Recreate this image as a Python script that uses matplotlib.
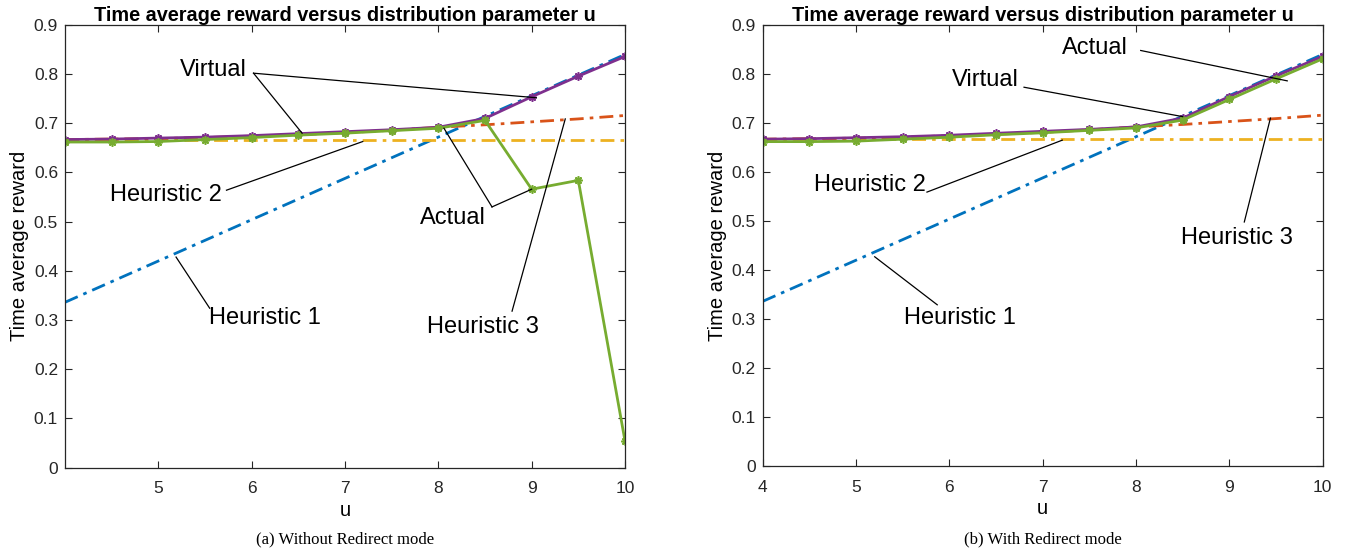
import numpy as np
import matplotlib
matplotlib.use("Agg")
from matplotlib import pyplot as plt

# data
u = [4, 4.5, 5, 5.5, 6, 6.5, 7, 7.5, 8, 8.5, 9, 9.5, 10]
heur1 = [0.336, 0.378, 0.420, 0.462, 0.504, 0.546, 0.588, 0.630, 0.672, 0.714, 0.756, 0.798, 0.840]
heur2 = [0.667] * 13
heur3 = [0.667, 0.668, 0.669, 0.671, 0.674, 0.677, 0.681, 0.686, 0.692, 0.697, 0.703, 0.709, 0.716]
virtual = [0.667, 0.668, 0.670, 0.672, 0.675, 0.679, 0.683, 0.687, 0.692, 0.710, 0.754, 0.796, 0.836]
actual_a = [0.662, 0.662, 0.663, 0.667, 0.671, 0.676, 0.680, 0.685, 0.690, 0.706, 0.566, 0.584, 0.054]
actual_b = [0.662, 0.662, 0.663, 0.667, 0.671, 0.676, 0.680, 0.685, 0.690, 0.706, 0.748, 0.790, 0.831]

c_h1 = (0.0, 0.447, 0.741)
c_h2 = (0.929, 0.694, 0.125)
c_h3 = (0.850, 0.325, 0.098)
c_vi = (0.494, 0.184, 0.556)
c_ac = (0.466, 0.674, 0.188)
dashdot = (0, (5, 2.2, 1.3, 2.2))
star = (8, 2, 0)

plt.rcParams['font.family'] = ['Liberation Sans', 'DejaVu Sans']

fig = plt.figure(figsize=(13.56, 5.53), dpi=100)
ax1 = fig.add_axes([65 / 1356, 1 - 467.5 / 553, 560 / 1356, 442.5 / 553])
ax2 = fig.add_axes([762.7 / 1356, 1 - 466 / 553, 560 / 1356, 441 / 553])


def draw(ax, actual, xticks):
    ax.plot(u, heur1, color=c_h1, lw=2, ls=dashdot)
    ax.plot(u, heur2, color=c_h2, lw=2, ls=dashdot)
    ax.plot(u, heur3, color=c_h3, lw=2, ls=dashdot)
    ax.plot(u, virtual, color=c_vi, lw=2, marker=star, ms=6, mew=1.2)
    ax.plot(u, actual, color=c_ac, lw=2, marker=star, ms=6, mew=1.2)
    ax.set_xlim(4, 10)
    ax.set_ylim(0, 0.9)
    ax.set_xticks(xticks)
    ax.set_yticks(np.arange(0, 0.91, 0.1))
    ax.set_yticklabels(["0"] + ["%.1f" % v for v in np.arange(0.1, 0.91, 0.1)])
    ax.tick_params(direction='in', top=True, right=True, length=5, width=0.8,
                   labelsize=12.5, colors=(0.15, 0.15, 0.15))
    ax.tick_params(axis='x', pad=10)
    ax.tick_params(axis='y', pad=5)
    for s in ax.spines.values():
        s.set_color((0.15, 0.15, 0.15))
        s.set_linewidth(0.9)
    ax.set_title("Time average reward versus distribution parameter u",
                 fontsize=14.3, fontweight='bold', pad=3)
    ax.set_xlabel("u", fontsize=14.5)
    ax.set_ylabel("Time average reward", fontsize=14.5)
    h = ax.get_position().height * 553
    ax.xaxis.set_label_coords(0.5, -33 / h)
    ax.yaxis.set_label_coords(-36 / 560, 0.5)


def label(ax, text, pos, start, ends):
    ax.text(pos[0], pos[1], text, ha='center', va='center', fontsize=17)
    for e in ends:
        ax.plot([start[0], e[0]], [start[1], e[1]], color='black', lw=0.9)


draw(ax1, actual_a, [5, 6, 7, 8, 9, 10])
label(ax1, "Virtual", (5.59, 0.808), (6.02, 0.802), [(9.05, 0.752), (6.54, 0.680)])
label(ax1, "Heuristic 2", (5.08, 0.554), (5.73, 0.564), [(7.19, 0.663)])
label(ax1, "Actual", (8.16, 0.507), (8.575, 0.53), [(9.0, 0.566), (8.06, 0.690)])
label(ax1, "Heuristic 3", (8.48, 0.286), (8.79, 0.318), [(9.36, 0.709)])
label(ax1, "Heuristic 1", (6.14, 0.304), (5.55, 0.324), [(5.19, 0.428)])

draw(ax2, actual_b, [4, 5, 6, 7, 8, 9, 10])
label(ax2, "Actual", (7.56, 0.853), (8.05, 0.848), [(9.62, 0.786)])
label(ax2, "Virtual", (6.38, 0.788), (6.8, 0.773), [(8.5, 0.713)])
label(ax2, "Heuristic 2", (5.15, 0.573), (5.76, 0.559), [(7.21, 0.665)])
label(ax2, "Heuristic 3", (9.08, 0.465), (9.16, 0.498), [(9.44, 0.710)])
label(ax2, "Heuristic 1", (6.11, 0.302), (5.87, 0.329), [(5.2, 0.427)])

fig.text(345 / 1356, 1 - 539 / 553, "(a) Without Redirect mode", ha='center', va='center',
         fontsize=12, family='Liberation Serif')
fig.text(1043 / 1356, 1 - 539 / 553, "(b) With Redirect mode", ha='center', va='center',
         fontsize=12, family='Liberation Serif')

fig.savefig("out.png", dpi=100)
